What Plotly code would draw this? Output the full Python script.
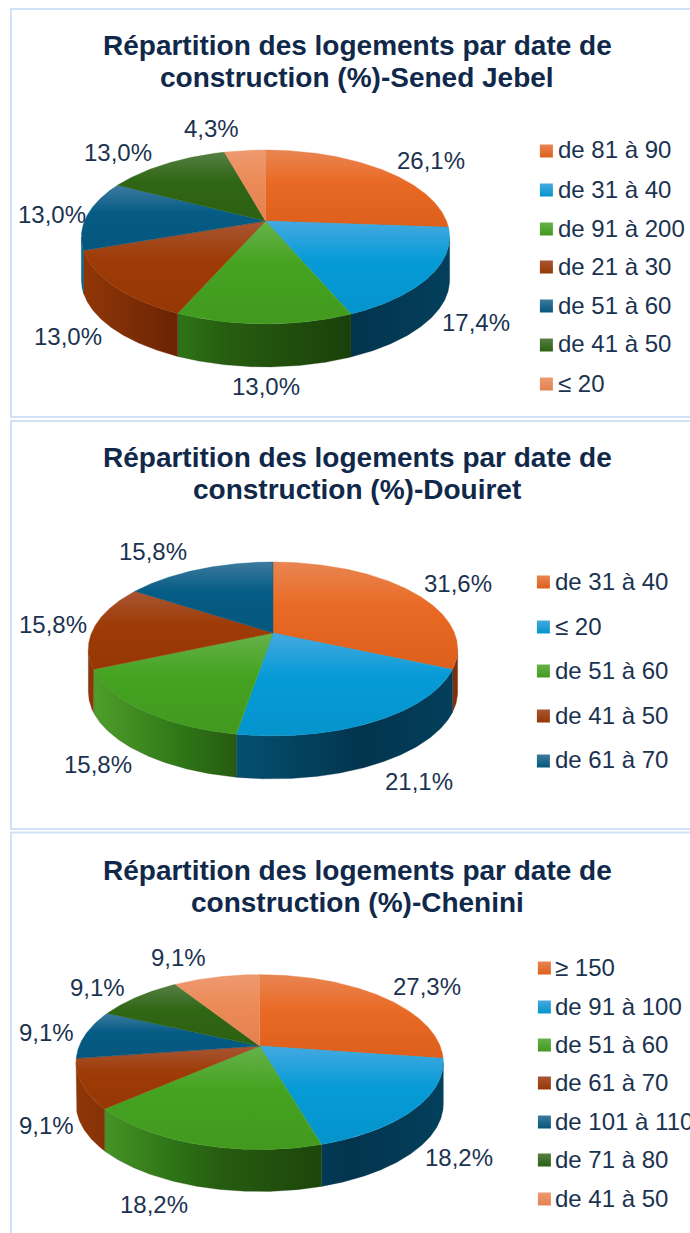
import plotly.graph_objects as go
import numpy as np

W, H = 690, 1233

# ---------- data ----------
title_1 = "Répartition des logements par date de<br>construction (%)-Sened Jebel"
categories_1 = ["de 81 à 90", "de 31 à 40", "de 91 à 200", "de 21 à 30", "de 51 à 60", "de 41 à 50", "≤ 20"]
values_1 = [26.1, 17.4, 13.0, 13.0, 13.0, 13.0, 4.3]

title_2 = "Répartition des logements par date de<br>construction (%)-Douiret"
categories_2 = ["de 31 à 40", "≤ 20", "de 51 à 60", "de 41 à 50", "de 61 à 70"]
values_2 = [31.6, 21.1, 15.8, 15.8, 15.8]

title_3 = "Répartition des logements par date de<br>construction (%)-Chenini"
categories_3 = ["≥ 150", "de 91 à 100", "de 51 à 60", "de 61 à 70", "de 101 à 110", "de 71 à 80", "de 41 à 50"]
values_3 = [27.3, 18.2, 18.2, 9.1, 9.1, 9.1, 9.1]

# ---------- styles ----------
TEXT = "#1b3350"
TITLE = "#10294a"
BORDER = "#cfe2f7"
FONT = "Liberation Sans"
BASE = ["#e96a24", "#069bd7", "#45a321", "#9e3b06", "#055c85", "#2f6614", "#ec8a58"]
TOP = ["#e98552", "#45a9e0", "#66b24a", "#a85634", "#3d7a9e", "#567f45", "#ee9a70"]
LOW = ["#de5f1c", "#0594cc", "#42991f", "#953705", "#05567c", "#2c6012", "#e38250"]
STOPS = [0, 0.264, 0.397, 0.75, 1]
WALL = [
    ["#7d300b", "#7d300b", "#7d300b", "#7d300b", "#7d300b"],
    ["#0a6a90", "#0a6a90", "#04506f", "#03344e", "#033f5b"],
    ["#4f9f2b", "#2d7316", "#265c10", "#1a3f0a", "#1a3f0a"],
    ["#8f3607", "#6a2304", "#6a2304", "#6a2304", "#6a2304"],
    ["#0a6a90", "#0a6a90", "#04506f", "#03344e", "#033f5b"],
    ["#4f9f2b", "#2d7316", "#265c10", "#1a3f0a", "#1a3f0a"],
    ["#a05a30", "#a05a30", "#a05a30", "#80401f", "#80401f"],
]

P = 0.184  # perspective of the disc
TEXT_DY = -1
panels = [
    dict(title=title_1, cats=categories_1, vals=values_1, box=(417, 9), cx=265.5, cy=221, k=84, r=181, h=43,
         title_y=61.5, leg_x=540, txt_x=556, leg_y=[151, 190, 229, 267, 306, 345, 384],
         lab=[(431, 161), (476, 323), (266, 387), (68, 338), (52, 216), (118, 153), (211, 130)]),
    dict(title=title_2, cats=categories_2, vals=values_2, box=(829, 421), cx=273, cy=633, k=84, r=181.5, h=43,
         title_y=473.5, leg_x=537, txt_x=553, leg_y=[582, 627, 671, 716, 761],
         lab=[(458, 585), (419, 782), (98, 765), (53, 625), (153, 552)]),
    dict(title=title_3, cats=categories_3, vals=values_3, box=(1240, 832.5), cx=259.7, cy=1046, k=84.5, r=180.5, h=42,
         title_y=886, leg_x=538, txt_x=553, leg_y=[968, 1007, 1045, 1083, 1122, 1160, 1199],
         lab=[(427, 987), (459, 1158), (154, 1205), (46, 1126), (46, 1033), (97, 989), (178, 958)]),
]

SIL_A, SIL_B = np.degrees(np.arccos(-P)), 360 - np.degrees(np.arccos(-P))


def project(deg, r, k):
    t = np.radians(deg)
    w = 1 + P * np.cos(t)
    return r * np.sin(t) / w, k * np.cos(t) / w


def arc(a, b):
    return np.linspace(a, b, max(int(abs(b - a)) * 2, 2) + 1)


fig = go.Figure()
shapes, annos = [], []
layout_axes = {}

for i, p in enumerate(panels):
    n = "" if i == 0 else str(i + 1)
    xa, ya = f"x{n}", f"y{n}"
    bottom, top = p["box"]
    cx, cy, r, k, h = p["cx"], p["cy"], p["r"], p["k"], p["h"]
    x0 = 11
    layout_axes[f"xaxis{n}"] = dict(domain=[x0 / W, 1], range=[x0 - cx, W - cx], visible=False, fixedrange=True)
    layout_axes[f"yaxis{n}"] = dict(domain=[max(0, 1 - bottom / H), 1 - top / H],
                                    range=[cy - min(bottom, H), cy - top], visible=False, fixedrange=True)
    # panel frame (open on the right)
    shapes.append(dict(type="path", xref="paper", yref="paper",
                       path=f"M {W + 5} {1 - top / H} L {x0 / W} {1 - top / H} L {x0 / W} {1 - bottom / H} L {W + 5} {1 - bottom / H}",
                       line=dict(color=BORDER, width=2)))
    fr = np.array(p["vals"]) / sum(p["vals"]) * 360
    edges = np.concatenate([[0], np.cumsum(fr)])

    # side walls
    for j in range(len(fr)):
        a, b = max(edges[j], SIL_A), min(edges[j + 1], SIL_B)
        if b <= a:
            continue
        th = arc(a, b)
        xs, ys = project(th, r, k)
        px = np.concatenate([xs, xs[::-1], xs[:1]])
        py = np.concatenate([ys, (ys - h)[::-1], ys[:1]])
        fig.add_trace(go.Scatter(
            x=px, y=py, xaxis=xa, yaxis=ya, mode="lines", fill="toself", hoverinfo="skip", showlegend=False,
            line=dict(width=0.3, color=WALL[j][3]),
            fillgradient=dict(type="horizontal", start=-180.0, stop=180.0,
                              colorscale=[[s, c] for s, c in zip(STOPS, WALL[j])])))
    # top face wedges (each has its own sheen from its top edge)
    for j in range(len(fr)):
        th = arc(edges[j], edges[j + 1])
        xs, ys = project(th, r, k)
        px = np.concatenate([[0], xs, [0]])
        py = np.concatenate([[0], ys, [0]])
        fig.add_trace(go.Scatter(
            x=px, y=py, xaxis=xa, yaxis=ya, mode="lines", fill="toself", hoverinfo="skip", showlegend=False,
            line=dict(width=0.4, color=BASE[j]),
            fillgradient=dict(type="vertical", start=float(py.max()), stop=float(py.min()),
                              colorscale=[[0, TOP[j]], [0.42, BASE[j]], [1, LOW[j]]])))
    # title
    for line, dy in zip(p["title"].split("<br>"), (-16, 16)):
        annos.append(dict(text=line, x=357 / W, y=1 - (p["title_y"] + dy) / H, xref="paper", yref="paper",
                          xanchor="center", yanchor="middle", showarrow=False, align="center",
                          font=dict(family=FONT, size=28, color=TITLE, weight="bold")))
    # data labels
    for v, (lx, ly) in zip(p["vals"], p["lab"]):
        annos.append(dict(text=f"{v:.1f}".replace(".", ",") + "%", x=lx / W, y=1 - (ly + TEXT_DY) / H,
                          xref="paper", yref="paper", xanchor="center", yanchor="middle", showarrow=False,
                          font=dict(family=FONT, size=24, color=TEXT)))
    # legend
    for j, (c, ly) in enumerate(zip(p["cats"], p["leg_y"])):
        annos.append(dict(text=c, x=p["txt_x"] / W, y=1 - (ly + TEXT_DY) / H, xref="paper", yref="paper",
                          xanchor="left", yanchor="middle", showarrow=False,
                          font=dict(family=FONT, size=24, color=TEXT)))
        fig.add_trace(go.Scatter(
            x=[p["leg_x"] + 6.4 - cx], y=[cy - ly], xaxis=xa, yaxis=ya, mode="markers", hoverinfo="skip",
            showlegend=False, cliponaxis=False,
            marker=dict(symbol="square", size=13, color=TOP[j], line=dict(width=0),
                        gradient=dict(type="vertical", color=LOW[j]))))

fig.update_layout(width=W, height=H, margin=dict(l=0, r=0, t=0, b=0), showlegend=False,
                  paper_bgcolor="white", plot_bgcolor="white", shapes=shapes, annotations=annos, **layout_axes)
fig.write_html("out.html", config=dict(displayModeBar=False),
               post_script="document.body.style.margin='0';document.body.style.overflow='hidden';")
